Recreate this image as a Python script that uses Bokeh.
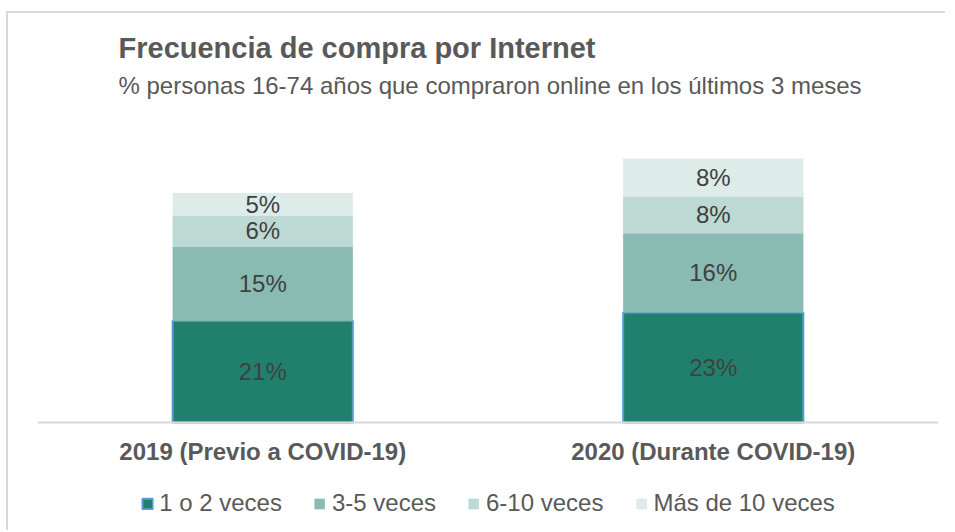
from bokeh.plotting import figure
from bokeh.models import (ColumnDataSource, LabelSet, Legend, LegendItem, Title,
                          FactorRange, Range1d, Span)
from bokeh.core.properties import value
from bokeh.embed import file_html
from bokeh.resources import INLINE

periods = ["2019 (Previo a COVID-19)", "2020 (Durante COVID-19)"]
series = ["1 o 2 veces", "3-5 veces", "6-10 veces", "Más de 10 veces"]
v_1a2 = [21.0, 22.7]
v_3a5 = [15.3, 16.3]
v_6a10 = [6.4, 7.6]
v_mas10 = [4.6, 7.8]
colors = ["#21806C", "#8ABBB3", "#BDD9D3", "#DDECE8"]
line_colors = ["#5B9BD5", "#8ABBB3", "#BDD9D3", "#DDECE8"]
line_widths = [2, 0.1, 0.1, 0.1]

title_text = "Frecuencia de compra por Internet"
subtitle_text = "% personas 16-74 años que compraron online en los últimos 3 meses"

FONT = "Liberation Sans"
PX_PER_PCT = 4.85
HEIGHT = 519
TOP = 97          # frame top (canvas px)
BASELINE = 409    # zero line (canvas px)

data = {"period": periods}
for s, v in zip(series, [v_1a2, v_3a5, v_6a10, v_mas10]):
    data[s] = v
src = ColumnDataSource(data)

p = figure(x_range=FactorRange(*periods, range_padding=0),
           y_range=Range1d(-(HEIGHT - BASELINE) / PX_PER_PCT, (BASELINE - TOP) / PX_PER_PCT),
           width=939, height=HEIGHT,
           output_backend="svg", toolbar_location=None,
           x_axis_location=None, y_axis_location=None,
           min_border_left=29, min_border_right=9,
           min_border_top=TOP, min_border_bottom=0,
           outline_line_color=None, background_fill_color="white",
           border_fill_color="white")
p.styles = {"border-top": "2px solid #D9D9D9", "border-left": "2px solid #D9D9D9",
            "margin-top": "11px", "margin-left": "6px"}
p.xgrid.visible = False
p.ygrid.visible = False

renderers = p.vbar_stack(series, x="period", width=0.4, source=src,
                         fill_color=colors, line_color=line_colors,
                         line_width=line_widths)

# baseline (category axis line)
p.add_layout(Span(location=0, dimension="width", line_color="#D9D9D9", line_width=2))

# category labels under the baseline
csrc = ColumnDataSource(dict(x=periods, y=[0] * len(periods), t=periods))
p.add_layout(LabelSet(x="x", y="y", text="t", source=csrc, y_offset=-29,
                      text_align="center", text_baseline="middle",
                      text_font=value(FONT), text_font_size="24px",
                      text_font_style="bold", text_color="#595959"))

# value labels at segment middles
lab_x, lab_y, lab_t = [], [], []
bottoms = [0.0] * len(periods)
for vals in [v_1a2, v_3a5, v_6a10, v_mas10]:
    for i, per in enumerate(periods):
        lab_x.append(per)
        lab_y.append(bottoms[i] + vals[i] / 2)
        lab_t.append(f"{round(vals[i])}%")
        bottoms[i] += vals[i]
lsrc = ColumnDataSource(dict(x=lab_x, y=lab_y, t=lab_t))
p.add_layout(LabelSet(x="x", y="y", text="t", source=lsrc,
                      text_align="center", text_baseline="middle",
                      text_font=value(FONT), text_font_size="24px",
                      text_color="#404040"))

legend = Legend(items=[LegendItem(label=s, renderers=[r]) for s, r in zip(series, renderers)],
                orientation="horizontal", location="bottom_center",
                label_text_font=FONT, label_text_font_size="24px",
                label_text_color="#595959",
                glyph_width=13, glyph_height=13, label_standoff=6, spacing=31,
                padding=0, margin=15, border_line_color=None,
                background_fill_alpha=0, label_height=20)
p.add_layout(legend)

p.add_layout(Title(text=subtitle_text, text_font=FONT, text_font_size="24px",
                   text_font_style="normal", text_color="#595959",
                   align="left", offset=81, standoff=24), "above")
p.add_layout(Title(text=title_text, text_font=FONT, text_font_size="29px",
                   text_font_style="bold", text_color="#595959",
                   align="left", offset=81, standoff=-12), "above")

open("out.html", "w").write(file_html(p, INLINE))
